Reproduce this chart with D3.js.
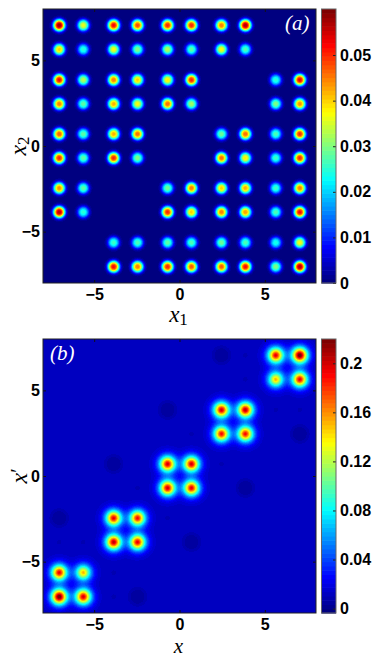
<!DOCTYPE html>
<html><head><meta charset="utf-8">
<script src="https://cdn.jsdelivr.net/npm/d3@7"></script>
<style>body{margin:0;background:#fff;} svg{display:block;}</style>
</head><body>
<svg id="fig" width="382" height="658"></svg>
<script>
// ---------------- data ----------------
const sites = [-7.05, -5.64, -3.86, -2.46, -0.7, 0.7, 2.46, 3.86, 5.64, 7.05];
// panel (a): rows from top (x2 = 7.05) to bottom (x2 = -7.05); columns x1 = sites
const ampA = [
 [0.058,0.036,0.052,0.048,0.050,0.050,0.045,0.057,0,0],
 [0.040,0.025,0.037,0.030,0.033,0.028,0.037,0.027,0,0],
 [0.052,0.033,0.045,0.040,0.038,0.050,0,0,0.025,0.053],
 [0.045,0.028,0.042,0.037,0.046,0.032,0,0,0.030,0.044],
 [0.047,0.028,0.042,0.046,0,0,0.029,0.046,0.027,0.050],
 [0.050,0.028,0.050,0.030,0,0,0.046,0.038,0.026,0.050],
 [0.044,0.028,0,0,0.029,0.045,0.040,0.042,0.026,0.045],
 [0.056,0.025,0,0,0.050,0.040,0.045,0.043,0.027,0.052],
 [0,0,0.026,0.027,0.028,0.027,0.029,0.027,0.024,0.037],
 [0,0,0.052,0.045,0.050,0.047,0.047,0.052,0.030,0.057]
];
// panel (b): peaks along the diagonal
const bX   = [-7.05,-5.64,-7.05,-5.64, -3.86,-2.46,-3.86,-2.46, -0.7,0.7,-0.7,0.7, 2.46,3.86,2.46,3.86, 5.64,7.05,5.64,7.05];
const bY   = [-7.05,-7.05,-5.64,-5.64, -3.86,-3.86,-2.46,-2.46, -0.7,-0.7,0.7,0.7, 2.46,2.46,3.86,3.86, 5.64,5.64,7.05,7.05];
const bAmp = [0.215,0.19,0.185,0.14, 0.195,0.185,0.185,0.18, 0.19,0.185,0.19,0.19, 0.18,0.18,0.19,0.195, 0.14,0.185,0.185,0.215];
const bBackground = 0.012;
// faint darker discs (off-diagonal)
const discX = [2.46,-0.7,-3.86,-7.05,-2.46,0.7,3.86,7.05];
const discY = [7.05,3.86,0.7,-2.46,-7.05,-3.86,-0.7,2.46];
const discDepth = -0.006;
// faint small dark dots
const dotX = [3.86,5.64,0.7,2.46,3.86,7.05,-2.46,-0.7,-5.64,-3.86,-7.05,-3.86];
const dotY = [7.05,3.86,2.46,0.7,5.64,3.86,-0.7,-2.46,-3.86,-5.64,-3.86,-7.05];
const dotDepth = -0.004;

const xTicks = [-5, 0, 5];
const cbTicksA = [0, 0.01, 0.02, 0.03, 0.04, 0.05];
const cbTicksB = [0, 0.04, 0.08, 0.12, 0.16, 0.2];
const cbDomainA = [0, 0.0601];
const cbDomainB = [-0.0036, 0.2198];

// ---------------- helpers ----------------
function jet(f) {
  const c = v => Math.max(0, Math.min(1, v));
  const r = c(1.5 - Math.abs(4*f - 3)), g = c(1.5 - Math.abs(4*f - 2)), b = c(1.5 - Math.abs(4*f - 1));
  return d3.rgb(r*255, g*255, b*255).formatHex();
}
const jet64 = d3.range(64).map(i => jet(i/63));

const svg = d3.select('#fig');
function tickStyle(sel) {
  sel.attr('font-family', '"Liberation Sans", Arial, sans-serif').attr('font-weight', 'bold')
     .attr('font-size', 16).attr('fill', '#000');
}
function mathStyle(sel, size) {
  sel.attr('font-family', '"Liberation Serif", "Times New Roman", serif').attr('font-style', 'italic')
     .attr('font-size', size);
}

function panel(box, domainC, cbTicks, fieldFn, cfg) {
  const x = d3.scaleLinear().domain([-8, 8]).range([box.left, box.right]);
  const y = d3.scaleLinear().domain([-8, 8]).range([box.bottom, box.top]);
  const color = d3.scaleQuantize().domain(domainC).range(jet64);

  // field image
  const w = Math.round(box.right - box.left), h = Math.round(box.bottom - box.top);
  const cv = document.createElement('canvas'); cv.width = w; cv.height = h;
  const ctx = cv.getContext('2d'); const img = ctx.createImageData(w, h);
  for (let j = 0; j < h; j++) {
    const yv = y.invert(box.top + j + 0.5);
    for (let i = 0; i < w; i++) {
      const xv = x.invert(box.left + i + 0.5);
      const c = d3.rgb(color(fieldFn(xv, yv)));
      const k = (j*w + i)*4;
      img.data[k] = c.r; img.data[k+1] = c.g; img.data[k+2] = c.b; img.data[k+3] = 255;
    }
  }
  ctx.putImageData(img, 0, 0);
  svg.append('image').attr('x', box.left).attr('y', box.top).attr('width', w).attr('height', h)
    .attr('preserveAspectRatio', 'none').attr('href', cv.toDataURL());

  // axes (ticks inside)
  const gx = svg.append('g').attr('transform', `translate(0,${box.bottom})`)
    .call(d3.axisBottom(x).tickValues(xTicks).tickSizeInner(-3).tickSizeOuter(0).tickPadding(6).tickFormat(d3.format('d')));
  const gy = svg.append('g').attr('transform', `translate(${box.left},0)`)
    .call(d3.axisLeft(y).tickValues(xTicks).tickSizeInner(-3).tickSizeOuter(0).tickPadding(3).tickFormat(d3.format('d')));
  const gt = svg.append('g').attr('transform', `translate(0,${box.top})`)
    .call(d3.axisTop(x).tickValues(xTicks).tickSizeInner(-3).tickSizeOuter(0).tickFormat(''));
  const gr = svg.append('g').attr('transform', `translate(${box.right},0)`)
    .call(d3.axisRight(y).tickValues(xTicks).tickSizeInner(-3).tickSizeOuter(0).tickFormat(''));
  [gx, gy, gt, gr].forEach(g => { g.select('.domain').remove(); g.selectAll('line').attr('stroke', '#111'); g.selectAll('text').call(tickStyle); });
  svg.append('rect').attr('x', box.left).attr('y', box.top).attr('width', w).attr('height', h)
    .attr('fill', 'none').attr('stroke', '#222').attr('stroke-width', 1);

  // colorbar
  const cbx0 = 321.5, cbx1 = 336;
  const cy = d3.scaleLinear().domain(domainC).range([box.bottom, box.top]);
  svg.append('g').selectAll('rect').data(color.range()).join('rect')
    .attr('x', cbx0).attr('width', cbx1 - cbx0)
    .attr('y', c => cy(color.invertExtent(c)[1]))
    .attr('height', c => cy(color.invertExtent(c)[0]) - cy(color.invertExtent(c)[1]) + 0.6)
    .attr('fill', c => c);
  const gc = svg.append('g').attr('transform', `translate(${cbx1},0)`)
    .call(d3.axisRight(cy).tickValues(cbTicks).tickSizeInner(-3).tickSizeOuter(0).tickPadding(4).tickFormat(d => d === 0 ? '0' : String(+d.toFixed(2))));
  gc.select('.domain').remove();
  gc.selectAll('line').attr('stroke', '#222');
  gc.selectAll('text').call(tickStyle);
  svg.append('rect').attr('x', cbx0).attr('y', box.top).attr('width', cbx1 - cbx0).attr('height', box.bottom - box.top)
    .attr('fill', 'none').attr('stroke', '#666').attr('stroke-width', 1);

  // panel letter
  svg.append('text').attr('x', cfg.letterX).attr('y', cfg.letterY).attr('fill', '#fff')
    .call(mathStyle, 21).text(cfg.letter);

  // axis labels
  const xl = svg.append('text').attr('x', (box.left + box.right)/2 - 1).attr('y', cfg.xLabelY).attr('text-anchor', 'middle')
    .call(mathStyle, cfg.xLabelSize);
  xl.append('tspan').text('x');
  if (cfg.xSub) xl.append('tspan').attr('dy', 3).attr('font-style', 'normal').attr('font-size', 17).text(cfg.xSub);
  const ymid = (box.top + box.bottom)/2;
  const yl = svg.append('text').attr('transform', `translate(${cfg.yLabelX},${ymid}) rotate(-90)`).attr('text-anchor', 'middle')
    .call(mathStyle, 24);
  yl.append('tspan').text('x');
  if (cfg.ySub) yl.append('tspan').attr('dy', 3).attr('font-style', 'normal').attr('font-size', 17).text(cfg.ySub);
  if (cfg.yPrime) yl.append('tspan').attr('dy', -2).attr('font-style', 'normal').attr('font-size', 20).text('\u2032');
}

// ---------------- field functions ----------------
function fieldA(xv, yv) {
  let v = 0;
  for (let r = 0; r < 10; r++) {
    const dy = yv - sites[9 - r];
    if (Math.abs(dy) > 1.2) continue;
    for (let c = 0; c < 10; c++) {
      const a = ampA[r][c]; if (!a) continue;
      const dx = xv - sites[c]; if (Math.abs(dx) > 1.2) continue;
      const d = Math.sqrt(dx*dx + dy*dy) / 0.34;
      v += a * Math.exp(-Math.pow(d, 2.6));
    }
  }
  return v;
}
function fieldB(xv, yv) {
  let v = bBackground;
  for (let k = 0; k < bX.length; k++) {
    const dx = xv - bX[k], dy = yv - bY[k];
    const d = Math.sqrt(dx*dx + dy*dy) / 0.44;
    v += bAmp[k] * Math.exp(-Math.pow(d, 1.7));
  }
  for (let k = 0; k < discX.length; k++) {
    const dx = xv - discX[k], dy = yv - discY[k];
    const d = Math.sqrt(dx*dx + dy*dy) / 0.55;
    v += discDepth * Math.exp(-Math.pow(d, 6));
  }
  for (let k = 0; k < dotX.length; k++) {
    const dx = xv - dotX[k], dy = yv - dotY[k];
    const d = Math.sqrt(dx*dx + dy*dy) / 0.14;
    v += dotDepth * Math.exp(-d*d);
  }
  return v;
}

panel({left: 43, right: 316, top: 9, bottom: 283}, cbDomainA, cbTicksA, fieldA,
  {letter: '(a)', letterX: 285, letterY: 30, xLabelY: 322, xLabelSize: 23, xSub: '1', yLabelX: 26, ySub: '2'});
panel({left: 43, right: 316, top: 339, bottom: 613}, cbDomainB, cbTicksB, fieldB,
  {letter: '(b)', letterX: 50, letterY: 360, xLabelY: 653, xLabelSize: 21, yLabelX: 27, yPrime: true});
</script>
</body></html>
